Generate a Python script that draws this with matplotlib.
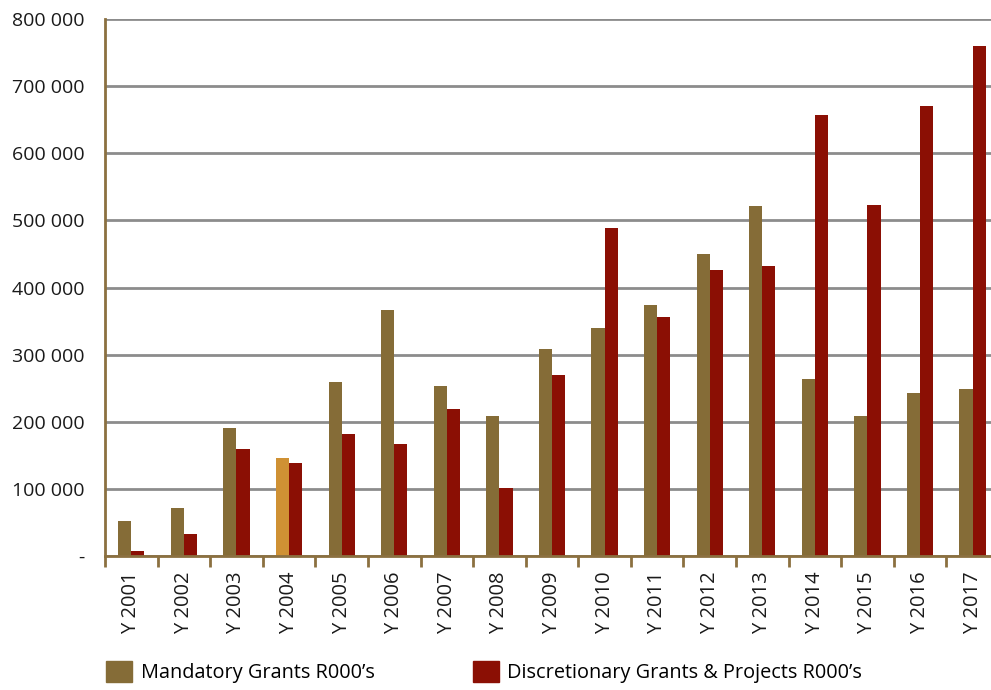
import matplotlib
matplotlib.use("Agg")
import matplotlib.pyplot as plt
import numpy as np
from matplotlib.patches import Patch
from matplotlib.ticker import FixedLocator, FuncFormatter

plt.rcParams["font.family"] = ["Open Sans", "DejaVu Sans"]

years = ["Y 2001", "Y 2002", "Y 2003", "Y 2004", "Y 2005", "Y 2006", "Y 2007",
         "Y 2008", "Y 2009", "Y 2010", "Y 2011", "Y 2012", "Y 2013", "Y 2014",
         "Y 2015", "Y 2016", "Y 2017"]
mandatory = [52000, 71000, 191000, 146000, 259000, 366000, 253000, 209000,
             308000, 340000, 374000, 450000, 521000, 264000, 209000, 243000, 249000]
discretionary = [8000, 33000, 159000, 139000, 182000, 167000, 219000, 101000,
                 270000, 489000, 356000, 426000, 432000, 657000, 523000, 670000, 760000]
highlight_year = "Y 2004"

C_MAND = "#856c37"
C_DISC = "#8b0f04"
C_HIGH = "#cf9134"
C_AXIS = "#8b7040"
C_GRID = "#8c8c8c"

fig = plt.figure(figsize=(9.91, 6.90), dpi=100)
# the plot area runs a little past the right edge of the image
ax = fig.add_axes([0.106, 0.194, 0.902, 0.7785])

x = np.arange(len(years))
w = 0.25
mand_colors = [C_HIGH if y == highlight_year else C_MAND for y in years]
ax.bar(x - w / 2, mandatory, w, color=mand_colors, zorder=3)
ax.bar(x + w / 2, discretionary, w, color=C_DISC, zorder=3)

ax.set_xlim(-0.5, len(years) - 0.5)
ax.set_ylim(0, 800000)
ax.yaxis.set_major_locator(FixedLocator(np.arange(0, 800001, 100000)))
ax.yaxis.set_major_formatter(FuncFormatter(
    lambda v, _: "-" if v == 0 else f"{int(v):,}".replace(",", " ")))
ax.grid(axis="y", color=C_GRID, linewidth=2, zorder=0)
ax.tick_params(axis="y", length=0, pad=15, labelsize=14, labelcolor="#1a1a1a")

# category labels centred, tick marks at the category boundaries
ax.set_xticks(x)
ax.set_xticklabels(years, rotation=90, fontsize=14.5, color="#1a1a1a")
ax.tick_params(axis="x", which="major", length=0, pad=11)
ax.set_xticks(np.arange(-0.5, len(years), 1), minor=True)
ax.tick_params(axis="x", which="minor", length=8, width=2, color=C_AXIS,
               direction="out")

for side in ("top", "right"):
    ax.spines[side].set_visible(False)
for side in ("left", "bottom"):
    ax.spines[side].set_color(C_AXIS)
    ax.spines[side].set_linewidth(2)
ax.spines["bottom"].set_zorder(4)

handles = [Patch(color=C_MAND), Patch(color=C_DISC)]
labels = ["Mandatory Grants R000’s", "Discretionary Grants & Projects R000’s"]
fig.legend(handles, labels, ncol=2, loc="lower left",
           bbox_to_anchor=(0.089, -0.016), frameon=False, fontsize=14.3,
           handlelength=1.32, handleheight=1.32, handletextpad=0.42,
           columnspacing=4.95)

fig.savefig("out.png", dpi=100)
